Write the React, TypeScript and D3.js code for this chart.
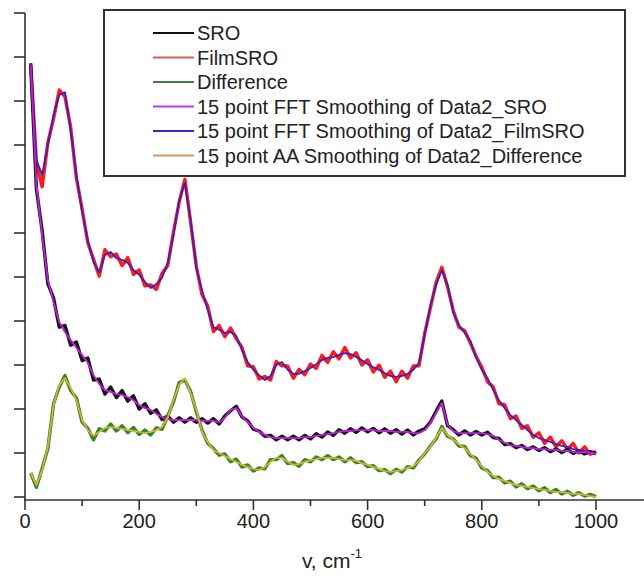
import React from "react";
import * as d3 from "d3";

// wavenumber grid (cm^-1)
const wavenumbers: number[] = d3.range(10, 1001, 10);

// raw spectra
const filmSRO = [
  9.86, 7.6, 7.05, 8.05, 8.6, 9.25, 9.1, 8.4, 7.25, 6.55,
  5.78, 5.4, 5.02, 5.62, 5.46, 5.52, 5.26, 5.44, 5.06, 5.16,
  4.8, 4.82, 4.72, 5.08, 5.26, 6.02, 6.7, 7.22, 6.25, 5.25,
  4.6, 4.34, 3.76, 3.9, 3.64, 3.84, 3.6, 3.4, 2.98, 2.96,
  2.68, 2.74, 2.66, 3.08, 2.98, 2.98, 2.7, 2.9, 2.78, 3.02,
  2.92, 3.22, 3.06, 3.3, 3.14, 3.4, 3.16, 3.28, 3.0, 3.12,
  2.84, 3.0, 2.72, 2.86, 2.62, 2.86, 2.7, 2.98, 2.98, 3.72,
  4.3, 4.88, 5.22, 4.78, 4.24, 3.86, 3.78, 3.5, 3.2, 2.95,
  2.62, 2.5, 2.12, 2.1, 1.78, 1.84, 1.56, 1.62, 1.36, 1.46,
  1.22, 1.36, 1.14, 1.28, 1.08, 1.22, 1.0, 1.14, 0.97, 1.04,
];
const sro = [
  9.82, 7.0, 6.05, 4.85, 4.52, 3.86, 3.9, 3.45, 3.52, 3.1,
  3.16, 2.66, 2.68, 2.34, 2.5, 2.26, 2.42, 2.18, 2.3, 2.0,
  2.12, 1.9, 1.98, 1.76, 1.84, 1.7, 1.8, 1.7, 1.8, 1.7,
  1.78, 1.68, 1.78, 1.66, 1.84, 1.96, 2.06, 1.82, 1.73, 1.54,
  1.5, 1.38, 1.4, 1.3, 1.38, 1.3, 1.38, 1.3, 1.4, 1.32,
  1.44, 1.36, 1.48, 1.4, 1.53, 1.45, 1.55, 1.47, 1.57, 1.48,
  1.56, 1.46, 1.55, 1.45, 1.53, 1.43, 1.52, 1.41, 1.5, 1.55,
  1.7, 1.95, 2.18, 1.62, 1.53, 1.41, 1.5, 1.41, 1.49, 1.41,
  1.47, 1.35, 1.33, 1.19, 1.21, 1.12, 1.17, 1.08, 1.14, 1.06,
  1.12, 1.03, 1.09, 1.01, 1.08, 0.99, 1.05, 0.98, 1.03, 0.98,
];
const difference = [
  0.55, 0.22, 0.65, 1.1, 2.12, 2.5, 2.76, 2.42, 2.25, 1.7,
  1.56, 1.3, 1.55, 1.5, 1.66, 1.5, 1.62, 1.46, 1.58, 1.42,
  1.52, 1.41, 1.57, 1.54, 1.84, 2.16, 2.6, 2.66, 2.4, 1.94,
  1.52, 1.22, 1.1, 0.95, 0.98, 0.8, 0.86, 0.68, 0.73, 0.59,
  0.66, 0.64, 0.85, 0.85, 0.94, 0.76, 0.78, 0.7, 0.85, 0.8,
  0.91, 0.85, 0.94, 0.85, 0.91, 0.8, 0.89, 0.78, 0.8, 0.69,
  0.71, 0.6, 0.62, 0.53, 0.63, 0.57, 0.69, 0.66, 0.84, 0.98,
  1.16, 1.32, 1.6, 1.38, 1.32, 1.16, 1.15, 0.94, 0.88, 0.66,
  0.6, 0.44, 0.45, 0.32, 0.36, 0.23, 0.3, 0.19, 0.25, 0.14,
  0.21, 0.1, 0.17, 0.07, 0.13, 0.04, 0.1, 0.02, 0.06, 0.01,
];

// smoothed spectra
const fftSRO = [
  9.82, 7.09, 5.95, 4.93, 4.43, 3.98, 3.75, 3.57, 3.39, 3.23,
  3.05, 2.77, 2.57, 2.43, 2.39, 2.34, 2.32, 2.27, 2.2, 2.09,
  2.02, 1.98, 1.89, 1.82, 1.77, 1.75, 1.75, 1.75, 1.75, 1.75,
  1.73, 1.73, 1.73, 1.7, 1.8, 1.98, 2.02, 1.84, 1.7, 1.57,
  1.48, 1.41, 1.36, 1.34, 1.34, 1.34, 1.34, 1.34, 1.36, 1.36,
  1.39, 1.41, 1.43, 1.45, 1.48, 1.5, 1.5, 1.52, 1.52, 1.52,
  1.52, 1.5, 1.5, 1.5, 1.48, 1.48, 1.48, 1.45, 1.45, 1.52,
  1.68, 1.91, 2.14, 1.64, 1.5, 1.45, 1.45, 1.45, 1.45, 1.45,
  1.43, 1.39, 1.3, 1.23, 1.18, 1.16, 1.14, 1.11, 1.11, 1.09,
  1.09, 1.07, 1.07, 1.05, 1.05, 1.02, 1.02, 1.02, 1.0, 0.98,
];
const fftFilmSRO = [
  9.86, 7.66, 7.32, 8.0, 8.68, 9.14, 9.2, 8.34, 7.32, 6.48,
  5.84, 5.34, 5.11, 5.5, 5.57, 5.43, 5.39, 5.32, 5.16, 5.05,
  4.89, 4.75, 4.84, 4.98, 5.32, 5.95, 6.75, 7.14, 6.3, 5.2,
  4.7, 4.25, 3.86, 3.8, 3.73, 3.75, 3.66, 3.34, 3.07, 2.89,
  2.77, 2.66, 2.75, 3.0, 3.07, 2.89, 2.8, 2.8, 2.86, 2.93,
  3.02, 3.11, 3.16, 3.18, 3.23, 3.27, 3.25, 3.18, 3.11, 3.02,
  2.95, 2.89, 2.82, 2.75, 2.73, 2.75, 2.8, 2.89, 3.05, 3.68,
  4.36, 4.82, 5.16, 4.82, 4.18, 3.91, 3.73, 3.55, 3.16, 2.89,
  2.7, 2.43, 2.2, 2.02, 1.86, 1.75, 1.64, 1.52, 1.41, 1.34,
  1.3, 1.25, 1.2, 1.16, 1.14, 1.09, 1.07, 1.05, 1.02, 1.0,
];
const aaDifference = [
  0.55, 0.27, 0.61, 1.14, 2.09, 2.55, 2.7, 2.48, 2.2, 1.75,
  1.52, 1.39, 1.48, 1.57, 1.59, 1.57, 1.55, 1.52, 1.5, 1.48,
  1.45, 1.48, 1.52, 1.59, 1.8, 2.2, 2.55, 2.7, 2.36, 1.98,
  1.48, 1.25, 1.07, 1.0, 0.93, 0.86, 0.8, 0.73, 0.68, 0.64,
  0.61, 0.68, 0.8, 0.89, 0.89, 0.8, 0.73, 0.75, 0.8, 0.84,
  0.86, 0.89, 0.89, 0.89, 0.86, 0.84, 0.84, 0.82, 0.77, 0.73,
  0.68, 0.64, 0.59, 0.57, 0.59, 0.61, 0.66, 0.7, 0.82, 1.0,
  1.14, 1.34, 1.57, 1.41, 1.3, 1.2, 1.11, 0.98, 0.84, 0.7,
  0.57, 0.48, 0.41, 0.36, 0.32, 0.27, 0.25, 0.23, 0.2, 0.18,
  0.16, 0.14, 0.11, 0.11, 0.09, 0.07, 0.07, 0.05, 0.02, 0.0,
];

const xTickValues = [0, 200, 400, 600, 800, 1000];
const xMinorValues = [100, 300, 500, 700, 900];
const yTickValues = [0, 1, 2, 3, 4, 5, 6, 7, 8, 9, 10, 11];

const legendLabels = [
  "SRO",
  "FilmSRO",
  "Difference",
  "15 point FFT Smoothing of Data2_SRO",
  "15 point FFT Smoothing of Data2_FilmSRO",
  "15 point AA Smoothing of Data2_Difference",
];
const legendColors = ["#111111", "#d65a5a", "#3d8040", "#b040f0", "#3030c8", "#d09a60"];

const rawSeries = [
  { values: filmSRO, color: "#ff1a1a" },
  { values: sro, color: "#1a1020" },
  { values: difference, color: "#2f8a22" },
];
const smoothSeries = [
  { values: fftFilmSRO, color: "#3a20c0" },
  { values: fftSRO, color: "#c020d8" },
  { values: aaDifference, color: "#d8b040" },
];

export default function App() {
  const W = 644;
  const H = 581;
  const x = d3.scaleLinear().domain([0, 1000]).range([25, 596]);
  const y = d3.scaleLinear().domain([0, 11]).range([497, 13]);
  const axisY = 500;
  const line = (vals: number[]) =>
    d3
      .line<number>()
      .x((_, i) => x(wavenumbers[i]))
      .y((d) => y(d))(vals) || "";
  const font = "'Liberation Sans', Arial, sans-serif";

  return (
    <svg
      width={W}
      height={H}
      style={{ position: "absolute", left: 0, top: 0, background: "#fff" }}
      fontFamily={font}
    >
      {/* raw series */}
      {rawSeries.map((s, i) => (
        <path key={"r" + i} d={line(s.values)} fill="none" stroke={s.color} strokeWidth={3.4} strokeLinejoin="round" />
      ))}
      {/* smoothed series */}
      {smoothSeries.map((s, i) => (
        <path key={"s" + i} d={line(s.values)} fill="none" stroke={s.color} strokeWidth={1.8} strokeLinejoin="round" />
      ))}

      {/* y axis */}
      <line x1={x(0)} x2={x(0)} y1={y(11)} y2={axisY + 1} stroke="#333" strokeWidth={1.6} />
      {yTickValues.map((t) => (
        <line key={"yt" + t} x1={x(0) - 11} x2={x(0)} y1={y(t)} y2={y(t)} stroke="#333" strokeWidth={1.6} />
      ))}

      {/* x axis */}
      <line x1={x(0) - 1} x2={W} y1={axisY} y2={axisY} stroke="#333" strokeWidth={1.6} />
      {xTickValues.map((t) => (
        <g key={"xt" + t}>
          <line x1={x(t)} x2={x(t)} y1={axisY} y2={axisY + 10} stroke="#333" strokeWidth={1.6} />
          <text x={x(t)} y={528} textAnchor="middle" fontSize={20} fill="#222">
            {t}
          </text>
        </g>
      ))}
      {xMinorValues.map((t) => (
        <line key={"xm" + t} x1={x(t)} x2={x(t)} y1={axisY} y2={axisY + 6} stroke="#333" strokeWidth={1.6} />
      ))}
      <text x={332} y={568} textAnchor="middle" fontSize={21} fill="#222">
        v, cm<tspan dy={-10} fontSize={13}>-1</tspan>
      </text>

      {/* legend */}
      <rect x={104} y={10} width={521} height={166} fill="#fff" stroke="#333" strokeWidth={2} />
      {legendLabels.map((lab, i) => {
        const cy = 33 + i * 24.5;
        return (
          <g key={"lg" + i}>
            <line x1={153} x2={194} y1={cy} y2={cy} stroke={legendColors[i]} strokeWidth={2} />
            <text x={197} y={cy + 7} fontSize={20} fill="#222">
              {lab}
            </text>
          </g>
        );
      })}
    </svg>
  );
}
